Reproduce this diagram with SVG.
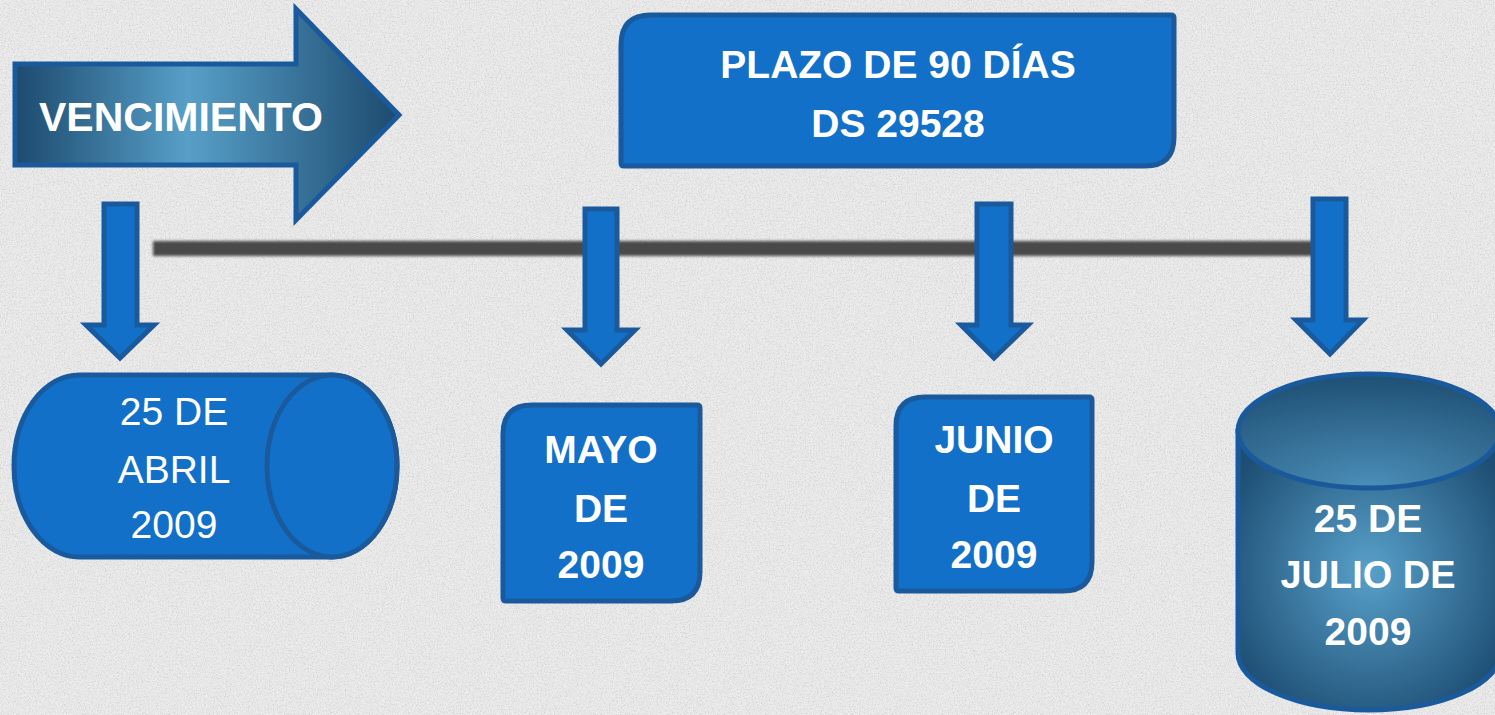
<svg xmlns="http://www.w3.org/2000/svg" width="1495" height="715" viewBox="0 0 1495 715">
  <defs>
    <style>
      .shape { fill: #1370c8; stroke: #1a5a9c; stroke-width: 5; stroke-linejoin: miter; }
      .dark { stroke: #1a5a9c; stroke-width: 5; }
      .tb { font-family: "Liberation Sans", Arial, sans-serif; font-weight: bold; fill: #ffffff; text-anchor: middle; }
      .tr { font-family: "Liberation Sans", Arial, sans-serif; font-weight: normal; fill: #ffffff; text-anchor: middle; }
    </style>
    <linearGradient id="gArrow" x1="0" y1="0" x2="1" y2="0">
      <stop offset="0" stop-color="#1d4a6e"/>
      <stop offset="0.45" stop-color="#579fc8"/>
      <stop offset="1" stop-color="#1d4a6e"/>
    </linearGradient>
    <radialGradient id="gCyl" cx="0.5" cy="0.5" r="0.6">
      <stop offset="0" stop-color="#58a1ca"/>
      <stop offset="1" stop-color="#1e4e74"/>
    </radialGradient>
    <radialGradient id="gTop" cx="0.5" cy="1" r="1">
      <stop offset="0" stop-color="#4b8fb8"/>
      <stop offset="1" stop-color="#1f4f74"/>
    </radialGradient>
    <filter id="noise" x="0" y="0" width="100%" height="100%">
      <feTurbulence type="fractalNoise" baseFrequency="0.75" numOctaves="2" seed="3" result="n"/>
      <feColorMatrix type="matrix" values="0 0 0 0 0.5  0 0 0 0 0.5  0 0 0 0 0.5  0 0 0 -2.2 1.25" in="n"/>
    </filter>
    <filter id="blur" x="-5%" y="-100%" width="110%" height="300%">
      <feGaussianBlur stdDeviation="1.5"/>
    </filter>
  </defs>

  <rect x="0" y="0" width="1495" height="715" fill="#ececec"/>
  <rect x="0" y="0" width="1495" height="715" filter="url(#noise)" opacity="0.6"/>

  <g id="connectors">
    <rect x="153" y="241" width="1162" height="15" fill="#4a4a4a" filter="url(#blur)"/>
    <path class="shape" d="M104,204 L137,204 L137,325 L154,325 L120,358 L86,325 L104,325 Z"/>
    <path class="shape" d="M585,209 L617,209 L617,330 L635,330 L601,364 L567,330 L585,330 Z"/>
    <path class="shape" d="M977,204 L1011,204 L1011,325 L1028,325 L994,358 L961,325 L977,325 Z"/>
    <path class="shape" d="M1313,199 L1346,199 L1346,320 L1363,320 L1330,354 L1296,320 L1313,320 Z"/>
  </g>

  <g id="vencimiento">
    <path d="M15,64 L296,64 L296,9 L399,115 L296,220 L296,165 L15,165 Z" fill="url(#gArrow)" class="dark" stroke-linejoin="miter"/>
    <text class="tb" x="181" y="131" font-size="41">VENCIMIENTO</text>
  </g>

  <g id="plazo">
    <path class="shape" d="M651,15 L1171,15 Q1174,15 1174,18 L1174,137 Q1174,166 1145,166 L624,166 Q621,166 621,163 L621,45 Q621,15 651,15 Z"/>
    <text class="tb" x="898" y="78" font-size="39">PLAZO DE 90 DÍAS</text>
    <text class="tb" x="898" y="137" font-size="39">DS 29528</text>
  </g>

  <g id="abril">
    <path class="shape" d="M79,375 L332,375 A65,91 0 0 1 332,557 L79,557 A65,91 0 0 1 79,375 Z"/>
    <ellipse class="shape" cx="332" cy="466" rx="65" ry="91"/>
    <text class="tr" x="174" y="425" font-size="39">25 DE</text>
    <text class="tr" x="174" y="483" font-size="39">ABRIL</text>
    <text class="tr" x="174" y="538" font-size="39">2009</text>
  </g>

  <g id="mayo">
    <path class="shape" d="M532,405 L697,405 Q700,405 700,408 L700,572 Q700,601 671,601 L506,601 Q503,601 503,598 L503,434 Q503,405 532,405 Z"/>
    <text class="tb" x="601" y="463" font-size="39">MAYO</text>
    <text class="tb" x="601" y="522" font-size="39">DE</text>
    <text class="tb" x="601" y="578" font-size="39">2009</text>
  </g>

  <g id="junio">
    <path class="shape" d="M925,397 L1089,397 Q1092,397 1092,400 L1092,562 Q1092,591 1063,591 L899,591 Q896,591 896,588 L896,426 Q896,397 925,397 Z"/>
    <text class="tb" x="994" y="453" font-size="39">JUNIO</text>
    <text class="tb" x="994" y="512" font-size="39">DE</text>
    <text class="tb" x="994" y="568" font-size="39">2009</text>
  </g>

  <g id="julio">
    <path d="M1238,431 L1238,653 A131,57 0 0 0 1500,653 L1500,431 Z" fill="url(#gCyl)" class="dark"/>
    <ellipse cx="1369" cy="431" rx="131" ry="57" fill="url(#gTop)" class="dark"/>
    <text class="tb" x="1368" y="532" font-size="39">25 DE</text>
    <text class="tb" x="1368" y="588" font-size="38">JULIO DE</text>
    <text class="tb" x="1368" y="645" font-size="39">2009</text>
  </g>
</svg>
